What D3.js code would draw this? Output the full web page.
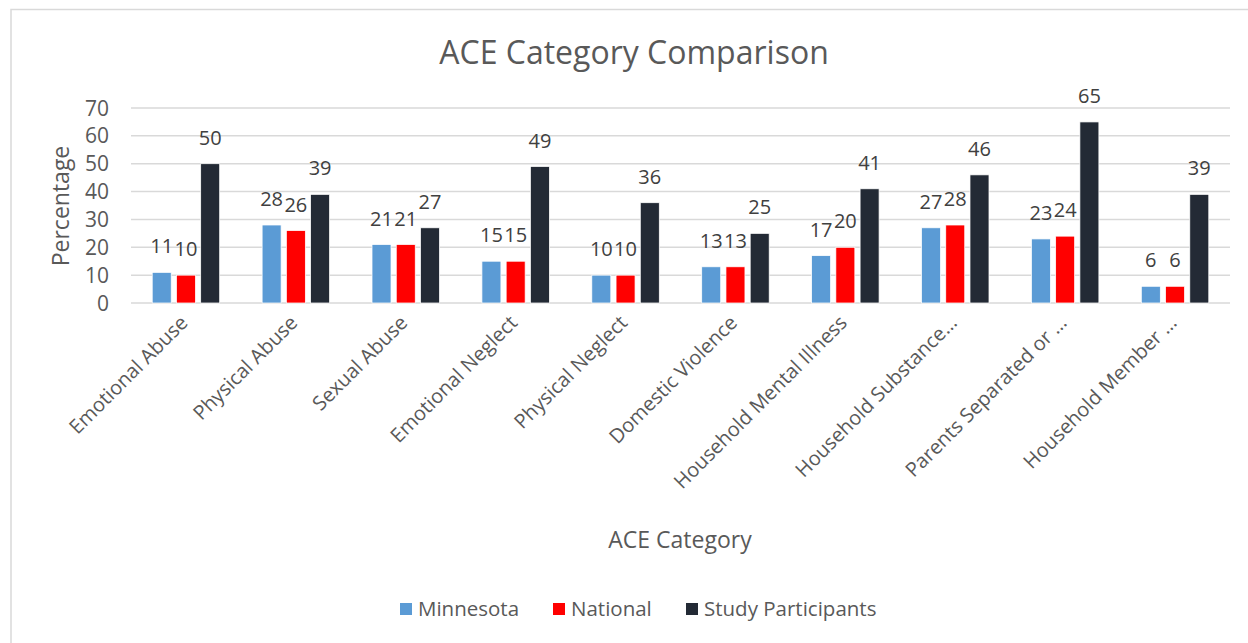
<!DOCTYPE html>
<html>
<head>
<meta charset="utf-8">
<script src="https://cdn.jsdelivr.net/npm/d3@7"></script>
<style>
  body { margin: 0; background: #fff; }
  svg text { font-family: "Open Sans", "Noto Sans", sans-serif; }
</style>
</head>
<body>
<div id="chart"></div>
<script>
const categories = [
  "Emotional Abuse", "Physical Abuse", "Sexual Abuse", "Emotional Neglect",
  "Physical Neglect", "Domestic Violence", "Household Mental Illness",
  "Household Substance…", "Parents Separated or …", "Household Member …"
];
const seriesNames = ["Minnesota", "National", "Study Participants"];
const minnesota = [11, 28, 21, 15, 10, 13, 17, 27, 23, 6];
const national = [10, 26, 21, 15, 10, 13, 20, 28, 24, 6];
const studyParticipants = [50, 39, 27, 49, 36, 25, 41, 46, 65, 39];
const yTicks = [0, 10, 20, 30, 40, 50, 60, 70];
const colors = ["#5B9BD5", "#FF0000", "#232A35"];

const W = 1248, H = 643;
const margin = { top: 108, right: 18, bottom: 340, left: 131 };

const svg = d3.select("#chart").append("svg")
  .attr("width", W)
  .attr("height", H);

// chart frame
svg.append("rect")
  .attr("x", 11).attr("y", 9.5)
  .attr("width", W + 10).attr("height", H + 10)
  .style("fill", "none")
  .style("stroke", "#D9D9D9")
  .style("stroke-width", "1.5px");

const x0 = d3.scaleBand()
  .domain(categories)
  .range([margin.left, W - margin.right])
  .paddingInner(0.386)
  .paddingOuter(0.193);

const x1 = d3.scaleBand()
  .domain(seriesNames)
  .range([0, x0.bandwidth()])
  .paddingInner(0.216);

const y = d3.scaleLinear()
  .domain([0, 70])
  .range([H - margin.bottom, margin.top]);

// grid
svg.append("g").selectAll("line")
  .data(yTicks)
  .enter().append("line")
  .attr("x1", margin.left)
  .attr("x2", W - margin.right)
  .attr("y1", (d) => y(d))
  .attr("y2", (d) => y(d))
  .style("stroke", "#D9D9D9")
  .style("stroke-width", "1.5px");

// y tick labels
svg.append("g").selectAll("text")
  .data(yTicks)
  .enter().append("text")
  .attr("x", 109)
  .attr("y", (d) => y(d))
  .attr("dy", "0.36em")
  .attr("text-anchor", "end")
  .style("font-size", "21px")
  .style("fill", "#595959")
  .text((d) => d);

const data = categories.map((c, i) => ({
  cat: c,
  vals: [minnesota[i], national[i], studyParticipants[i]].map((v, j) => ({ name: seriesNames[j], value: v, idx: j }))
}));

const groups = svg.append("g").selectAll("g")
  .data(data)
  .enter().append("g")
  .attr("transform", (d) => `translate(${x0(d.cat)},0)`);

groups.selectAll("rect")
  .data((d) => d.vals)
  .enter().append("rect")
  .attr("x", (d) => x1(d.name))
  .attr("width", x1.bandwidth())
  .attr("y", (d) => y(d.value))
  .attr("height", (d) => y(0) - y(d.value))
  .style("fill", (d) => colors[d.idx])
  .style("stroke", "#fff")
  .style("stroke-width", "0.75px");

groups.selectAll("text")
  .data((d) => d.vals)
  .enter().append("text")
  .attr("x", (d) => x1(d.name) + x1.bandwidth() / 2)
  .attr("y", (d) => y(d.value) - 19)
  .attr("text-anchor", "middle")
  .style("font-size", "20px")
  .style("fill", "#404040")
  .text((d) => d.value);

// x category labels
svg.append("g").selectAll("text")
  .data(categories)
  .enter().append("text")
  .attr("transform", (d) => `translate(${x0(d) + x0.bandwidth() / 2 - 2},${y(0) + 16}) rotate(-45)`)
  .attr("text-anchor", "end")
  .attr("dy", "0.35em")
  .style("font-size", "20px")
  .style("fill", "#595959")
  .text((d) => d);

// titles
svg.append("text")
  .attr("x", 634).attr("y", 64)
  .attr("text-anchor", "middle")
  .style("font-size", "32px")
  .style("fill", "#595959")
  .text("ACE Category Comparison");

svg.append("text")
  .attr("transform", "translate(69,206) rotate(-90)")
  .attr("text-anchor", "middle")
  .style("font-size", "23px")
  .style("fill", "#595959")
  .text("Percentage");

svg.append("text")
  .attr("x", 680).attr("y", 548)
  .attr("text-anchor", "middle")
  .style("font-size", "23px")
  .style("fill", "#595959")
  .text("ACE Category");

// legend
const legendX = [400, 553, 686];
const legend = svg.append("g").selectAll("g")
  .data(seriesNames)
  .enter().append("g")
  .attr("transform", (d, i) => `translate(${legendX[i]},603)`);

legend.append("rect")
  .attr("width", 12).attr("height", 12)
  .style("fill", (d, i) => colors[i]);

legend.append("text")
  .attr("x", 18).attr("y", 6)
  .attr("dy", "0.36em")
  .style("font-size", "20.5px")
  .style("fill", "#595959")
  .text((d) => d);
</script>
</body>
</html>
